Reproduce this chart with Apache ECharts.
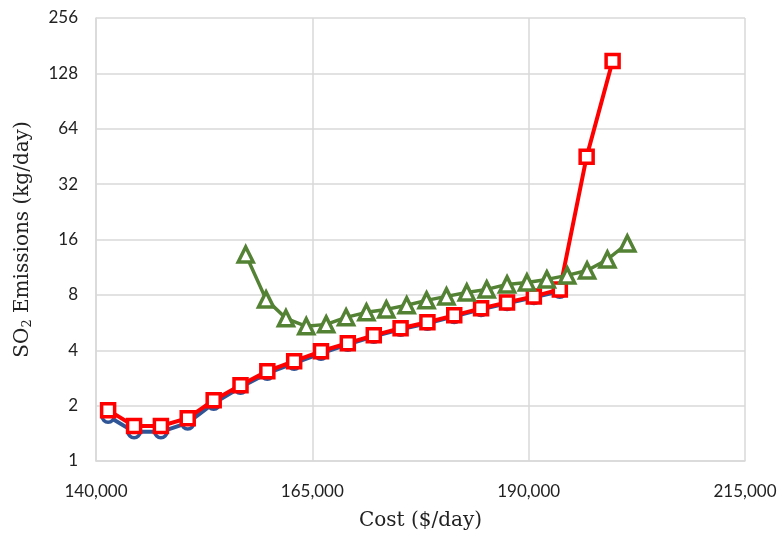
<!DOCTYPE html>
<html><head><meta charset="utf-8">
<script src="https://cdn.jsdelivr.net/npm/echarts@6/dist/echarts.min.js"></script>
<style>html,body{margin:0;padding:0;background:#fff}#c{width:782px;height:536px}</style>
</head><body><div id="c"></div>
<script>
const costA = [141400,144400,147500,150600,153600,156700,159800,162900,166000,169100,172100,175200,178300,181400,184500,187500,190600,193600,196700,199700];
const blueY = [1.75,1.44,1.44,1.61,2.06,2.52,3.00,3.40,3.85,4.31,4.76,5.20,5.60,6.11,6.67,7.19,7.75,8.36];
const redY  = [1.89,1.55,1.55,1.71,2.14,2.58,3.08,3.49,3.95,4.37,4.82,5.27,5.68,6.19,6.76,7.28,7.85,8.57,45.1,149.6];
const costG = [157300,159650,161950,164300,166600,168900,171250,173550,175900,178200,180500,182850,185150,187500,189800,192100,194450,196750,199100,201400];
const greenY = [13.27,7.56,5.97,5.40,5.53,6.04,6.43,6.67,7.02,7.47,7.85,8.25,8.57,9.12,9.35,9.71,10.21,10.86,12.46,15.22];
const xTicks = [140000,165000,190000,215000];
const yTicks = [1,2,4,8,16,32,64,128,256];

const pair = (xs, ys) => ys.map((v,i)=>[xs[i], v]);
const chart = echarts.init(document.getElementById('c'), null, {renderer:'canvas'});
const labelFont = {fontFamily:'Lato, "Open Sans", sans-serif', fontSize:17, color:'#222'};
const serif = '"DejaVu Serif","Liberation Serif",serif';
chart.setOption({
  animation:false,
  backgroundColor:'#fff',
  grid:{left:96,right:37,top:18,bottom:74,containLabel:false},
  xAxis:{
    type:'value', min:xTicks[0], max:xTicks[xTicks.length-1], interval:25000,
    axisLine:{show:true,lineStyle:{color:'#d9d9d9',width:1.5}},
    axisTick:{show:false},
    splitLine:{show:true,lineStyle:{color:'#d9d9d9',width:1.5}},
    axisLabel:Object.assign({margin:22,formatter:v=>v.toLocaleString('en-US')},labelFont),
    name:'Cost ($/day)', nameLocation:'middle', nameGap:50,
    nameTextStyle:{fontFamily:serif,fontSize:20,color:'#222'}
  },
  yAxis:{
    type:'log', logBase:2, min:yTicks[0], max:yTicks[yTicks.length-1],
    axisLine:{show:true,lineStyle:{color:'#d9d9d9',width:1.5}},
    axisTick:{show:false},
    splitLine:{show:true,lineStyle:{color:'#d9d9d9',width:1.5}},
    axisLabel:Object.assign({margin:18},labelFont),
    name:'SO{sub|2} Emissions (kg/day)', nameLocation:'middle', nameGap:62, nameRotate:90,
    nameTextStyle:{fontFamily:serif,fontSize:20,color:'#222',
      rich:{sub:{fontFamily:serif,fontSize:13,color:'#222',padding:[10,0,0,0]}}}
  },
  series:[
    {type:'line',data:pair(costA,blueY),symbol:'circle',symbolSize:12,
     lineStyle:{color:'#2f5597',width:4},itemStyle:{color:'#fff',borderColor:'#2f5597',borderWidth:3.5}},
    {type:'line',data:pair(costA,redY),symbol:'rect',symbolSize:13,
     lineStyle:{color:'#ff0000',width:4},itemStyle:{color:'#fff',borderColor:'#ff0000',borderWidth:3.5}},
    {type:'line',data:pair(costG,greenY),symbol:'triangle',symbolSize:15,
     lineStyle:{color:'#548235',width:3.5},itemStyle:{color:'#fff',borderColor:'#548235',borderWidth:3.5}}
  ]
});
</script></body></html>
